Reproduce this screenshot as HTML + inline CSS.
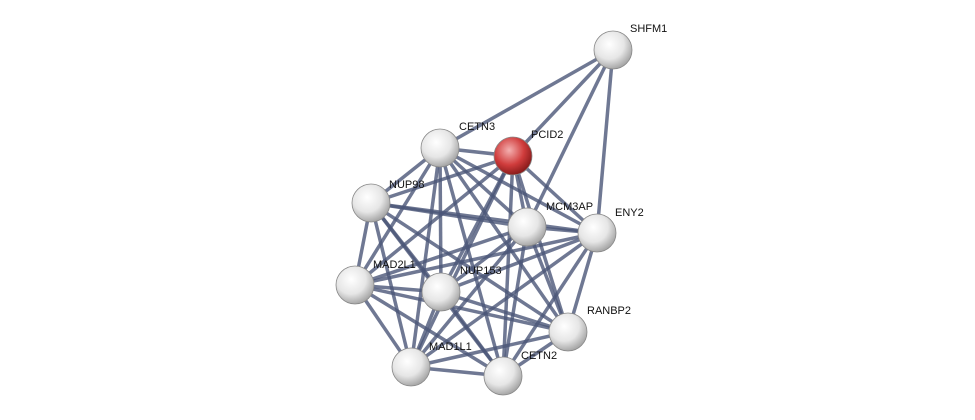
<!DOCTYPE html>
<html><head><meta charset="utf-8"><style>
html,body{margin:0;padding:0;background:#fff;}
svg{display:block}
text{font-family:"Liberation Sans",sans-serif;font-size:11px;fill:#111}
</style></head><body>
<svg width="975" height="420" viewBox="0 0 975 420" xmlns="http://www.w3.org/2000/svg">
<defs>
<radialGradient id="g" cx="40%" cy="35%" r="65%">
<stop offset="0" stop-color="#ffffff"/><stop offset="0.6" stop-color="#e6e6e6"/><stop offset="1" stop-color="#a8a8a8"/>
</radialGradient>
<radialGradient id="r" cx="40%" cy="35%" r="65%">
<stop offset="0" stop-color="#f4b0b0"/><stop offset="0.6" stop-color="#d03c3c"/><stop offset="1" stop-color="#8a1c1c"/>
</radialGradient>
</defs>
<g stroke="#4b5678" stroke-width="3.5" stroke-opacity="0.8">
<line x1="613" y1="50" x2="440" y2="148"/>
<line x1="613" y1="50" x2="513" y2="156"/>
<line x1="613" y1="50" x2="527" y2="227"/>
<line x1="613" y1="50" x2="597" y2="233"/>
<line x1="440" y1="148" x2="513" y2="156"/>
<line x1="440" y1="148" x2="371" y2="203"/>
<line x1="440" y1="148" x2="527" y2="227"/>
<line x1="440" y1="148" x2="597" y2="233"/>
<line x1="440" y1="148" x2="355" y2="285"/>
<line x1="440" y1="148" x2="441" y2="292"/>
<line x1="440" y1="148" x2="568" y2="332"/>
<line x1="440" y1="148" x2="411" y2="367"/>
<line x1="440" y1="148" x2="503" y2="376"/>
<line x1="513" y1="156" x2="371" y2="203"/>
<line x1="513" y1="156" x2="527" y2="227"/>
<line x1="513" y1="156" x2="597" y2="233"/>
<line x1="513" y1="156" x2="355" y2="285"/>
<line x1="513" y1="156" x2="441" y2="292"/>
<line x1="513" y1="156" x2="568" y2="332"/>
<line x1="513" y1="156" x2="411" y2="367"/>
<line x1="513" y1="156" x2="503" y2="376"/>
<line x1="371" y1="203" x2="527" y2="227"/>
<line x1="371" y1="203" x2="597" y2="233"/>
<line x1="371" y1="203" x2="355" y2="285"/>
<line x1="371" y1="203" x2="441" y2="292"/>
<line x1="371" y1="203" x2="568" y2="332"/>
<line x1="371" y1="203" x2="411" y2="367"/>
<line x1="371" y1="203" x2="503" y2="376"/>
<line x1="527" y1="227" x2="597" y2="233"/>
<line x1="527" y1="227" x2="355" y2="285"/>
<line x1="527" y1="227" x2="441" y2="292"/>
<line x1="527" y1="227" x2="568" y2="332"/>
<line x1="527" y1="227" x2="411" y2="367"/>
<line x1="527" y1="227" x2="503" y2="376"/>
<line x1="597" y1="233" x2="355" y2="285"/>
<line x1="597" y1="233" x2="441" y2="292"/>
<line x1="597" y1="233" x2="568" y2="332"/>
<line x1="597" y1="233" x2="411" y2="367"/>
<line x1="597" y1="233" x2="503" y2="376"/>
<line x1="355" y1="285" x2="441" y2="292"/>
<line x1="355" y1="285" x2="568" y2="332"/>
<line x1="355" y1="285" x2="411" y2="367"/>
<line x1="355" y1="285" x2="503" y2="376"/>
<line x1="441" y1="292" x2="568" y2="332"/>
<line x1="441" y1="292" x2="411" y2="367"/>
<line x1="441" y1="292" x2="503" y2="376"/>
<line x1="568" y1="332" x2="411" y2="367"/>
<line x1="568" y1="332" x2="503" y2="376"/>
<line x1="411" y1="367" x2="503" y2="376"/>
</g>
<g stroke="#888" stroke-width="0.8">
<circle cx="613" cy="50" r="19" fill="url(#g)"/>
<circle cx="440" cy="148" r="19" fill="url(#g)"/>
<circle cx="513" cy="156" r="19" fill="url(#r)"/>
<circle cx="371" cy="203" r="19" fill="url(#g)"/>
<circle cx="527" cy="227" r="19" fill="url(#g)"/>
<circle cx="597" cy="233" r="19" fill="url(#g)"/>
<circle cx="355" cy="285" r="19" fill="url(#g)"/>
<circle cx="441" cy="292" r="19" fill="url(#g)"/>
<circle cx="568" cy="332" r="19" fill="url(#g)"/>
<circle cx="411" cy="367" r="19" fill="url(#g)"/>
<circle cx="503" cy="376" r="19" fill="url(#g)"/>
</g>
<text x="630" y="32">SHFM1</text>
<text x="459" y="130">CETN3</text>
<text x="531" y="138">PCID2</text>
<text x="389" y="188">NUP98</text>
<text x="546" y="210">MCM3AP</text>
<text x="615" y="216">ENY2</text>
<text x="373" y="268">MAD2L1</text>
<text x="460" y="274">NUP153</text>
<text x="587" y="314">RANBP2</text>
<text x="429" y="350">MAD1L1</text>
<text x="521" y="359">CETN2</text>
</svg>
</body></html>
